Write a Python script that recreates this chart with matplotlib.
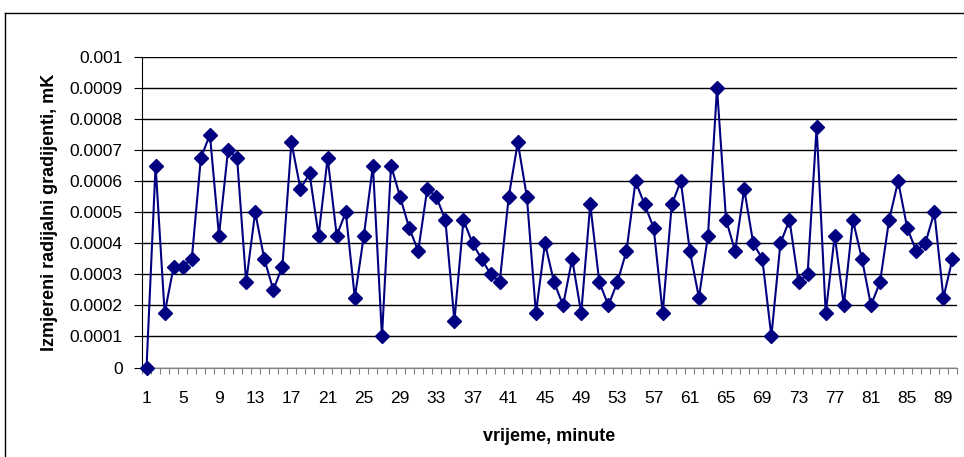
import numpy as np
import matplotlib.pyplot as plt
from matplotlib.lines import Line2D
from matplotlib.ticker import FixedLocator

plt.rcParams['font.family'] = ['Liberation Sans', 'DejaVu Sans']

# measured radial gradients (mK) per minute
minutes = list(range(1, 91))
gradients = [
    0.0, 0.00065, 0.000175, 0.000325, 0.000325, 0.00035, 0.000675, 0.00075, 0.000425, 0.0007,
    0.000675, 0.000275, 0.0005, 0.00035, 0.00025, 0.000325, 0.000725, 0.000575, 0.000625, 0.000425,
    0.000675, 0.000425, 0.0005, 0.000225, 0.000425, 0.00065, 0.0001, 0.00065, 0.00055, 0.00045,
    0.000375, 0.000575, 0.00055, 0.000475, 0.00015, 0.000475, 0.0004, 0.00035, 0.0003, 0.000275,
    0.00055, 0.000725, 0.00055, 0.000175, 0.0004, 0.000275, 0.0002, 0.00035, 0.000175, 0.000525,
    0.000275, 0.0002, 0.000275, 0.000375, 0.0006, 0.000525, 0.00045, 0.000175, 0.000525, 0.0006,
    0.000375, 0.000225, 0.000425, 0.0009, 0.000475, 0.000375, 0.000575, 0.0004, 0.00035, 0.0001,
    0.0004, 0.000475, 0.000275, 0.0003, 0.000775, 0.000175, 0.000425, 0.0002, 0.000475, 0.00035,
    0.0002, 0.000275, 0.000475, 0.0006, 0.00045, 0.000375, 0.0004, 0.0005, 0.000225, 0.00035,
]
x_ticks = list(range(1, 91, 4))
y_ticks = [0, 0.0001, 0.0002, 0.0003, 0.0004, 0.0005, 0.0006, 0.0007, 0.0008, 0.0009, 0.001]
y_labels = ['0', '0.0001', '0.0002', '0.0003', '0.0004', '0.0005', '0.0006', '0.0007', '0.0008', '0.0009', '0.001']

W, H = 964, 457
fig = plt.figure(figsize=(W / 100, H / 100), dpi=100)
# chart area border (only left and top edges fall inside the picture)
fig.add_artist(Line2D([5 / W, 5 / W], [0, 1 - 13 / H], transform=fig.transFigure, color='black', lw=1))
fig.add_artist(Line2D([5 / W, 1], [1 - 13 / H, 1 - 13 / H], transform=fig.transFigure, color='black', lw=1))

ax = fig.add_axes([142 / W, 1 - 367.5 / H, 815 / W, 310.5 / H])
ax.plot(minutes, gradients, color='#000080', lw=1.5, marker='D', markersize=7,
        markerfacecolor='#000080', markeredgecolor='#000080', clip_on=False, zorder=3)

ax.set_xlim(0.5, 90.5)
ax.set_ylim(0, 0.001)
ax.set_yticks(y_ticks)
ax.set_yticklabels(y_labels)
ax.set_xticks(x_ticks)
ax.xaxis.set_minor_locator(FixedLocator(np.arange(0.5, 91, 1)))
ax.tick_params(axis='x', which='major', length=0, pad=17, labelsize=12.5)
ax.tick_params(axis='x', which='minor', length=4, color='#808080', width=0.8)
ax.tick_params(axis='y', length=6, width=0.8, labelsize=12.5, pad=8)

ax.grid(axis='y', color='black', lw=1)
ax.set_axisbelow(True)
for s in ['top', 'right']:
    ax.spines[s].set_visible(False)
ax.spines['left'].set_color('black')
ax.spines['bottom'].set_color('#808080')

ax.set_xlabel('vrijeme, minute', fontsize=13, fontweight='bold', labelpad=16)
ax.set_ylabel('Izmjereni radijalni gradijenti, mK', fontsize=13, fontweight='bold', labelpad=8)

fig.savefig('out.png', dpi=100)
